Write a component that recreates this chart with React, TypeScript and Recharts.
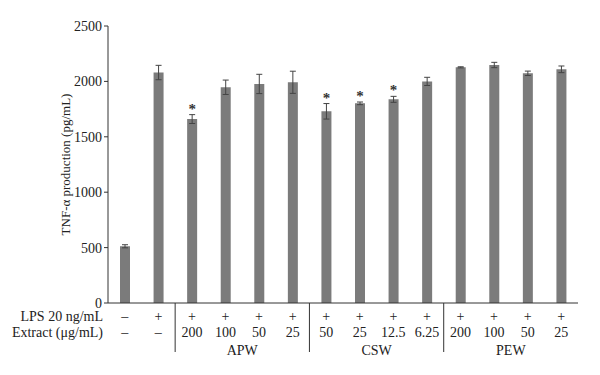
import React from 'react';
import { BarChart, Bar, XAxis, YAxis, ErrorBar, LabelList } from 'recharts';

const lps = ['–', '+', '+', '+', '+', '+', '+', '+', '+', '+', '+', '+', '+', '+'];
const extract = ['–', '–', '200', '100', '50', '25', '50', '25', '12.5', '6.25', '200', '100', '50', '25'];
const tnf = [512, 2080, 1660, 1947, 1977, 1992, 1730, 1802, 1838, 2000, 2127, 2148, 2073, 2109];
const sd = [14, 65, 40, 65, 87, 100, 70, 12, 27, 37, 5, 24, 20, 30];
const significant = [false, false, true, false, false, false, true, true, true, false, false, false, false, false];
const groups = [
  { name: 'APW', start: 2, end: 6 },
  { name: 'CSW', start: 6, end: 10 },
  { name: 'PEW', start: 10, end: 14 },
];
const yTicks = [0, 500, 1000, 1500, 2000, 2500];

const W = 600;
const H = 375;
const margin = { top: 26, right: 22, bottom: 12, left: 48 };
const yAxisWidth = 60;
const xAxisHeight = 60;
const plotLeft = margin.left + yAxisWidth;
const plotWidth = W - margin.right - plotLeft;
const plotHeight = H - margin.top - margin.bottom - xAxisHeight;
const band = plotWidth / tnf.length;
const yMax = 2500;

const font = '"Liberation Serif", "Times New Roman", serif';
const textColor = '#222222';

const data = tnf.map((v, i) => ({ id: i, tnf: v, sd: sd[i] }));

const TableTick = (props: any) => {
  const { x, y, index } = props;
  const axisY = y - 4;
  const left = x - band / 2;
  const txt = { fontFamily: font, fontSize: 14, fill: textColor };
  return (
    <g>
      <text {...txt} x={x} y={axisY + 18} textAnchor="middle">{lps[index]}</text>
      <text {...txt} x={x} y={axisY + 34} textAnchor="middle">{extract[index]}</text>
      {index === 0 && (
        <>
          <text {...txt} x={left - 5} y={axisY + 18} textAnchor="end">LPS 20 ng/mL</text>
          <text {...txt} x={left - 5} y={axisY + 34} textAnchor="end">Extract (μg/mL)</text>
        </>
      )}
      {groups.map((g) => (
        <React.Fragment key={g.name}>
          {g.start === index && (
            <line x1={left} x2={left} y1={axisY} y2={axisY + 49} stroke="#333" strokeWidth={1} />
          )}
          {Math.floor((g.start + g.end) / 2) === index && (
            <text {...txt} x={left} y={axisY + 52} textAnchor="middle">{g.name}</text>
          )}
        </React.Fragment>
      ))}
    </g>
  );
};

const StarLabel = (props: any) => {
  const { x, y, width, index } = props;
  if (!significant[index]) return null;
  const errTop = y - (sd[index] / yMax) * plotHeight;
  return (
    <text x={x + width / 2} y={errTop - 1} textAnchor="middle" fontFamily={font} fontSize={15} fontWeight="bold" fill="#333333">
      *
    </text>
  );
};

export default function App() {
  return (
    <div style={{ position: 'absolute', left: 0, top: 0, width: W, height: H, background: '#fff' }}>
      <BarChart width={W} height={H} data={data} margin={margin} barCategoryGap={0}>
        <XAxis
          dataKey="id"
          type="category"
          height={xAxisHeight}
          axisLine={{ stroke: '#333' }}
          tickLine={false}
          tickSize={0}
          tickMargin={4}
          interval={0}
          tick={<TableTick />}
        />
        <YAxis
          width={yAxisWidth}
          domain={[0, yMax]}
          ticks={yTicks}
          allowDataOverflow
          axisLine={{ stroke: '#333' }}
          tickLine={{ stroke: '#333' }}
          tickSize={4}
          tickMargin={2}
          tick={{ fontFamily: font, fontSize: 14, fill: textColor }}
          label={{
            value: 'TNF-α production (pg/mL)',
            angle: -90,
            position: 'insideLeft',
            offset: 17,
            style: { fontFamily: font, fontSize: 13, fill: textColor, textAnchor: 'middle' },
          }}
        />
        <Bar dataKey="tnf" fill="#7b7b7b" barSize={10} isAnimationActive={false}>
          <ErrorBar dataKey="sd" width={3} stroke="#444" strokeWidth={1} direction="y" />
          <LabelList dataKey="tnf" content={<StarLabel />} />
        </Bar>
      </BarChart>
    </div>
  );
}
